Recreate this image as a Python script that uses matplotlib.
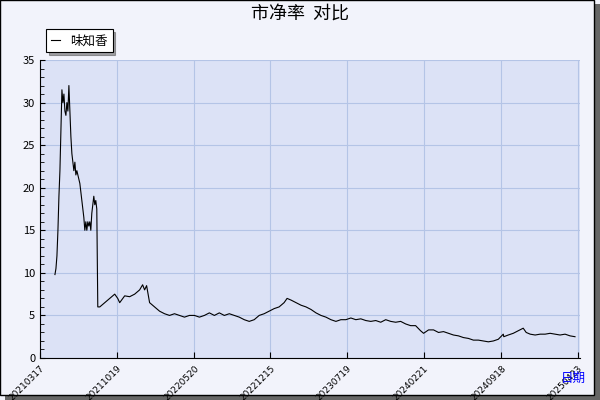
import matplotlib
matplotlib.use("Agg")
import matplotlib.pyplot as plt
from matplotlib.ticker import MultipleLocator
from matplotlib.patches import Rectangle

plt.rcParams['font.family'] = ['Noto Sans CJK SC', 'DejaVu Sans']

day_idx = [15,16,17,18,19,20,21,22,23,24,25,26,27,28,29,30,31,32,33,34,35,36,37,38,39,40,41,42,43,44,45,46,47,48,49,50,51,52,53,54,55,56,57,58,
           60,65,70,75,78,80,85,90,95,100,103,105,107,110,115,120,125,130,135,140,145,150,155,160,165,170,175,180,185,190,195,200,205,210,215,
           220,225,230,235,240,245,248,252,257,262,267,272,277,282,287,292,297,302,307,312,317,322,327,332,337,342,347,352,357,362,367,372,377,
           382,385,390,395,400,405,410,415,420,425,430,435,440,445,450,455,460,465,465.5,470,475,480,485,488,492,497,502,507,512,517,522,527,532,537,539]
pb = [9.8,10.5,12,15,19,22,27,31.5,30,31,29,28.5,30,29,32,29,26,24,23,22,23,21.5,22,21.5,21,20.5,19.5,18.5,17.5,16.5,15,16,15,16,15.5,16,15,17,18,19,18,18.5,17.5,6,
      6,6.5,7,7.5,7,6.5,7.3,7.2,7.5,8,8.6,8,8.5,6.5,6,5.5,5.2,5,5.2,5,4.8,5,5,4.8,5,5.3,5,5.3,5,5.2,5,4.8,4.5,4.3,4.5,
      5,5.2,5.5,5.8,6,6.5,7,6.8,6.5,6.2,6,5.7,5.3,5,4.8,4.5,4.3,4.5,4.5,4.7,4.5,4.6,4.4,4.3,4.4,4.2,4.5,4.3,4.2,4.3,4,3.8,3.8,
      3.2,2.9,3.3,3.3,3,3.1,2.9,2.7,2.6,2.4,2.3,2.1,2.1,2,1.9,2,2.2,2.8,2.5,2.7,2.9,3.2,3.5,3,2.8,2.7,2.8,2.8,2.9,2.8,2.7,2.8,2.6,2.5]
pb = pb[:len(day_idx)]
day_idx = day_idx[:len(pb)]
tick_pos = [0,77,155,231,308,385,463,540]
tick_labels = ['20210317','20211019','20220520','20221215','20230719','20240221','20240918','20250423']

fig = plt.figure(figsize=(6,4), dpi=100, facecolor='#f2f3fb')
fig.patches.append(Rectangle((0.008,0.0), 0.992, 0.99, transform=fig.transFigure, facecolor='#666666', edgecolor='none', zorder=-2))
fig.patches.append(Rectangle((0,0.012), 0.99, 0.988, transform=fig.transFigure, facecolor='#f2f3fb', edgecolor='black', lw=1, zorder=-1))
ax = fig.add_axes([40/600, 42/400, 540/600, 298/400])
ax.set_facecolor('#dce2f6')
ax.plot(day_idx, pb, color='black', lw=0.8, label='味知香')
ax.set_xlim(0, 542)
ax.set_ylim(0, 35)
ax.yaxis.set_major_locator(MultipleLocator(5))
ax.yaxis.set_minor_locator(MultipleLocator(1))
ax.set_xticks(tick_pos)
ax.set_xticklabels(tick_labels, rotation=45, ha='right', rotation_mode='anchor', fontsize=6.5, family='DejaVu Sans')
ax.tick_params(axis='y', labelsize=8, direction='in')
ax.tick_params(axis='y', which='minor', direction='in', length=3)
ax.tick_params(axis='x', direction='in', length=4, pad=4)
ax.grid(True, color='#b4c4e6', lw=0.8)
for s in ['top', 'right']:
    ax.spines[s].set_visible(False)
fig.text(0.5, 0.965, '市净率  对比', ha='center', va='center', fontsize=13)
fig.text(0.955, 0.055, '日期', ha='center', va='center', fontsize=9, color='blue')
leg = ax.legend(loc='lower left', bbox_to_anchor=(0.0, 1.005), fontsize=9, frameon=True, fancybox=False,
                handlelength=0.7, borderpad=0.4, edgecolor='black', shadow=True)
leg.get_frame().set_linewidth(0.8)
fig.savefig('out.png', dpi=100, facecolor=fig.get_facecolor())
